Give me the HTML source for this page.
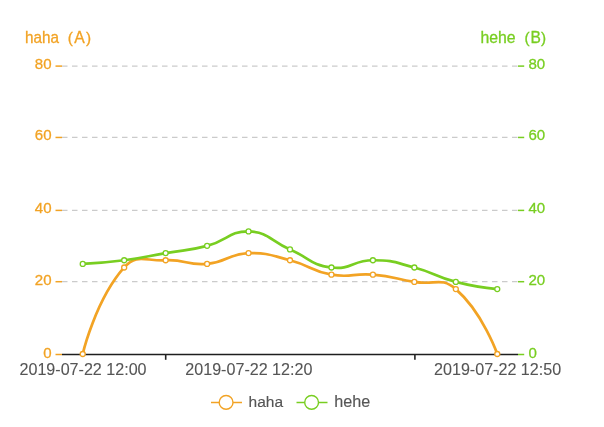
<!DOCTYPE html>
<html><head><meta charset="utf-8"><style>
html,body{margin:0;padding:0;background:#fff;width:604px;height:427px;overflow:hidden}
svg{display:block;font-family:"Liberation Sans", sans-serif;will-change:transform;filter:blur(0.35px)}
</style></head><body>
<svg width="604" height="427" viewBox="0 0 604 427">
<line x1="62.0" y1="281.7" x2="518.0" y2="281.7" stroke="#cbcbcb" stroke-width="1.25" stroke-dasharray="5.5 4.5"/>
<line x1="62.0" y1="210.4" x2="518.0" y2="210.4" stroke="#cbcbcb" stroke-width="1.25" stroke-dasharray="5.5 4.5"/>
<line x1="62.0" y1="137.45" x2="518.0" y2="137.45" stroke="#cbcbcb" stroke-width="1.25" stroke-dasharray="5.5 4.5"/>
<line x1="62.0" y1="66.1" x2="518.0" y2="66.1" stroke="#cbcbcb" stroke-width="1.25" stroke-dasharray="5.5 4.5"/>
<line x1="55.5" y1="354.5" x2="62" y2="354.5" stroke="#f2a324" stroke-width="1.5"/>
<line x1="518" y1="354.5" x2="524.2" y2="354.5" stroke="#78ce21" stroke-width="1.5"/>
<text transform="translate(51.60,357.50) scale(0.985,1)" text-anchor="end" fill="#f2a324" stroke="#f2a324" stroke-width="0.3" font-size="15.3">0</text>
<text transform="translate(528.40,357.50) scale(0.985,1)" text-anchor="start" fill="#78ce21" stroke="#78ce21" stroke-width="0.3" font-size="15.3">0</text>
<line x1="55.5" y1="281.7" x2="62" y2="281.7" stroke="#f2a324" stroke-width="1.5"/>
<line x1="518" y1="281.7" x2="524.2" y2="281.7" stroke="#78ce21" stroke-width="1.5"/>
<text transform="translate(51.60,284.70) scale(0.985,1)" text-anchor="end" fill="#f2a324" stroke="#f2a324" stroke-width="0.3" font-size="15.3">20</text>
<text transform="translate(528.40,284.70) scale(0.985,1)" text-anchor="start" fill="#78ce21" stroke="#78ce21" stroke-width="0.3" font-size="15.3">20</text>
<line x1="55.5" y1="210.4" x2="62" y2="210.4" stroke="#f2a324" stroke-width="1.5"/>
<line x1="518" y1="210.4" x2="524.2" y2="210.4" stroke="#78ce21" stroke-width="1.5"/>
<text transform="translate(51.60,213.40) scale(0.985,1)" text-anchor="end" fill="#f2a324" stroke="#f2a324" stroke-width="0.3" font-size="15.3">40</text>
<text transform="translate(528.40,213.40) scale(0.985,1)" text-anchor="start" fill="#78ce21" stroke="#78ce21" stroke-width="0.3" font-size="15.3">40</text>
<line x1="55.5" y1="137.45" x2="62" y2="137.45" stroke="#f2a324" stroke-width="1.5"/>
<line x1="518" y1="137.45" x2="524.2" y2="137.45" stroke="#78ce21" stroke-width="1.5"/>
<text transform="translate(51.60,140.45) scale(0.985,1)" text-anchor="end" fill="#f2a324" stroke="#f2a324" stroke-width="0.3" font-size="15.3">60</text>
<text transform="translate(528.40,140.45) scale(0.985,1)" text-anchor="start" fill="#78ce21" stroke="#78ce21" stroke-width="0.3" font-size="15.3">60</text>
<line x1="55.5" y1="66.1" x2="62" y2="66.1" stroke="#f2a324" stroke-width="1.5"/>
<line x1="518" y1="66.1" x2="524.2" y2="66.1" stroke="#78ce21" stroke-width="1.5"/>
<text transform="translate(51.60,69.10) scale(0.985,1)" text-anchor="end" fill="#f2a324" stroke="#f2a324" stroke-width="0.3" font-size="15.3">80</text>
<text transform="translate(528.40,69.10) scale(0.985,1)" text-anchor="start" fill="#78ce21" stroke="#78ce21" stroke-width="0.3" font-size="15.3">80</text>
<line x1="62" y1="354.45" x2="518" y2="354.45" stroke="#1e1e1e" stroke-width="1.4"/>
<line x1="165.7" y1="354" x2="165.7" y2="359.8" stroke="#222" stroke-width="1.6"/>
<line x1="414.9" y1="354" x2="414.9" y2="359.8" stroke="#222" stroke-width="1.6"/>
<text transform="translate(83.03,375.30) scale(1.0,1)" text-anchor="middle" fill="#555" stroke="#555" stroke-width="0.1" font-size="16.1">2019-07-22 12:00</text>
<text transform="translate(248.85,375.30) scale(1.0,1)" text-anchor="middle" fill="#555" stroke="#555" stroke-width="0.1" font-size="16.1">2019-07-22 12:20</text>
<text transform="translate(497.57,375.30) scale(1.0,1)" text-anchor="middle" fill="#555" stroke="#555" stroke-width="0.1" font-size="16.1">2019-07-22 12:50</text>
<text transform="translate(25.00,43.00) scale(0.955,1)" text-anchor="start" fill="#f2a324" stroke="#f2a324" stroke-width="0.3" font-size="16">haha</text>
<text transform="translate(67.80,43.00) scale(1.0,1)" text-anchor="start" fill="#f2a324" stroke="#f2a324" stroke-width="0.3" font-size="15.3">(<tspan dx="1.4" font-size="15.7">A</tspan><tspan dx="1.1">)</tspan></text>
<text transform="translate(480.50,43.00) scale(0.975,1)" text-anchor="start" fill="#78ce21" stroke="#78ce21" stroke-width="0.3" font-size="16.2">hehe</text>
<text transform="translate(524.60,43.00) scale(1.0,1)" text-anchor="start" fill="#78ce21" stroke="#78ce21" stroke-width="0.3" font-size="15.3">(<tspan dx="0.8" font-size="15.6">B</tspan><tspan dx="0.2">)</tspan></text>
<path d="M82.73 354.00 C82.73 354.00 95.37 300.06 124.18 267.48 C136.82 253.19 144.79 261.18 165.64 260.27 C186.25 259.37 186.67 265.65 207.09 263.88 C228.12 262.05 227.63 253.97 248.55 253.06 C269.09 253.06 269.71 254.98 290.00 260.27 C311.16 265.79 310.14 270.98 331.45 274.69 C351.59 278.19 352.34 272.90 372.91 274.69 C393.79 276.51 393.64 278.29 414.36 281.90 C435.09 285.50 441.17 276.37 455.82 289.11 C482.62 312.42 497.27 354.00 497.27 354.00" fill="none" stroke="#f2a324" stroke-width="2.7" stroke-linejoin="round"/>
<path d="M82.73 263.88 C82.73 263.88 103.57 262.96 124.18 260.27 C145.02 257.55 144.91 256.67 165.64 253.06 C186.36 249.46 186.80 251.14 207.09 245.85 C228.26 240.33 228.12 231.43 248.55 231.43 C269.58 232.34 269.27 240.44 290.00 249.45 C310.73 258.47 309.98 264.68 331.45 267.48 C351.44 270.09 352.18 260.27 372.91 260.27 C393.64 260.27 394.07 262.19 414.36 267.48 C435.53 273.00 434.65 276.38 455.82 281.90 C476.11 287.19 497.27 289.11 497.27 289.11" fill="none" stroke="#78ce21" stroke-width="2.7" stroke-linejoin="round"/>
<circle cx="82.73" cy="354.00" r="2.5" fill="#fff" stroke="#f2a324" stroke-width="1.3"/>
<circle cx="124.18" cy="267.48" r="2.5" fill="#fff" stroke="#f2a324" stroke-width="1.3"/>
<circle cx="165.64" cy="260.27" r="2.5" fill="#fff" stroke="#f2a324" stroke-width="1.3"/>
<circle cx="207.09" cy="263.88" r="2.5" fill="#fff" stroke="#f2a324" stroke-width="1.3"/>
<circle cx="248.55" cy="253.06" r="2.5" fill="#fff" stroke="#f2a324" stroke-width="1.3"/>
<circle cx="290.00" cy="260.27" r="2.5" fill="#fff" stroke="#f2a324" stroke-width="1.3"/>
<circle cx="331.45" cy="274.69" r="2.5" fill="#fff" stroke="#f2a324" stroke-width="1.3"/>
<circle cx="372.91" cy="274.69" r="2.5" fill="#fff" stroke="#f2a324" stroke-width="1.3"/>
<circle cx="414.36" cy="281.90" r="2.5" fill="#fff" stroke="#f2a324" stroke-width="1.3"/>
<circle cx="455.82" cy="289.11" r="2.5" fill="#fff" stroke="#f2a324" stroke-width="1.3"/>
<circle cx="497.27" cy="354.00" r="2.5" fill="#fff" stroke="#f2a324" stroke-width="1.3"/>
<circle cx="82.73" cy="263.88" r="2.5" fill="#fff" stroke="#78ce21" stroke-width="1.3"/>
<circle cx="124.18" cy="260.27" r="2.5" fill="#fff" stroke="#78ce21" stroke-width="1.3"/>
<circle cx="165.64" cy="253.06" r="2.5" fill="#fff" stroke="#78ce21" stroke-width="1.3"/>
<circle cx="207.09" cy="245.85" r="2.5" fill="#fff" stroke="#78ce21" stroke-width="1.3"/>
<circle cx="248.55" cy="231.43" r="2.5" fill="#fff" stroke="#78ce21" stroke-width="1.3"/>
<circle cx="290.00" cy="249.45" r="2.5" fill="#fff" stroke="#78ce21" stroke-width="1.3"/>
<circle cx="331.45" cy="267.48" r="2.5" fill="#fff" stroke="#78ce21" stroke-width="1.3"/>
<circle cx="372.91" cy="260.27" r="2.5" fill="#fff" stroke="#78ce21" stroke-width="1.3"/>
<circle cx="414.36" cy="267.48" r="2.5" fill="#fff" stroke="#78ce21" stroke-width="1.3"/>
<circle cx="455.82" cy="281.90" r="2.5" fill="#fff" stroke="#78ce21" stroke-width="1.3"/>
<circle cx="497.27" cy="289.11" r="2.5" fill="#fff" stroke="#78ce21" stroke-width="1.3"/>
<line x1="211" y1="402.5" x2="242" y2="402.5" stroke="#f2a324" stroke-width="1.5"/>
<circle cx="226.1" cy="402.4" r="6.9" fill="#fff" stroke="#f2a324" stroke-width="1.4"/>
<text transform="translate(248.60,406.60) scale(1.0,1)" text-anchor="start" fill="#555" stroke="#555" stroke-width="0.15" font-size="15.5">haha</text>
<line x1="296.5" y1="402.5" x2="327.5" y2="402.5" stroke="#78ce21" stroke-width="1.5"/>
<circle cx="311.6" cy="402.4" r="6.9" fill="#fff" stroke="#78ce21" stroke-width="1.4"/>
<text transform="translate(334.30,406.60) scale(1.0,1)" text-anchor="start" fill="#555" stroke="#555" stroke-width="0.15" font-size="16.2">hehe</text>
</svg>
</body></html>
